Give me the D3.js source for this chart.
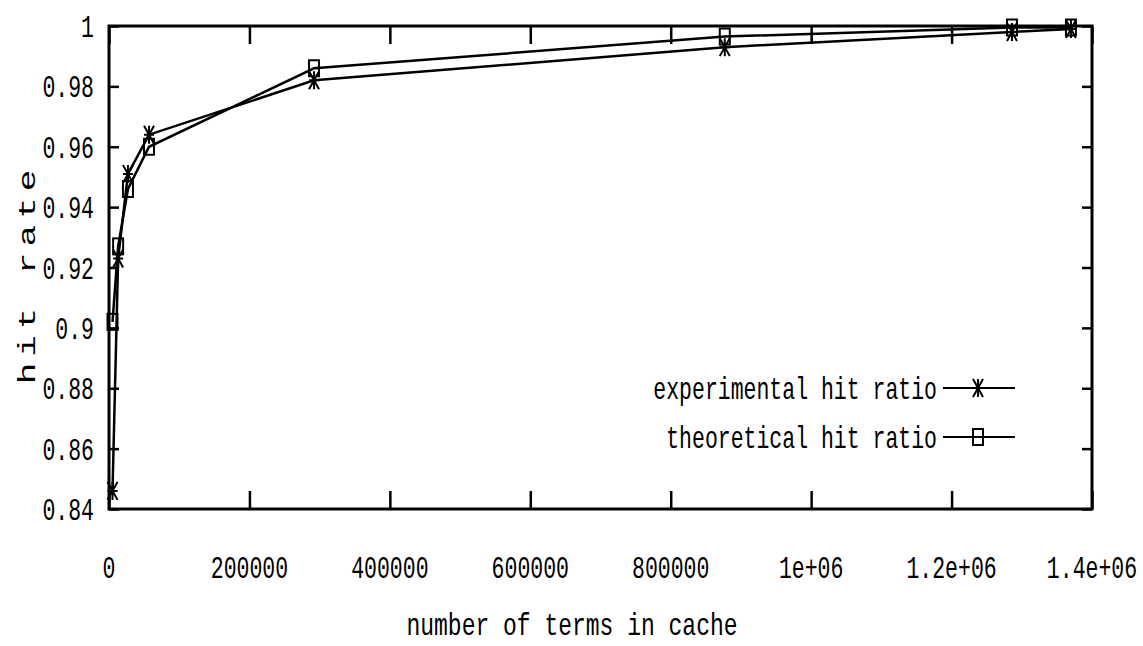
<!DOCTYPE html>
<html>
<head>
<meta charset="utf-8">
<script src="https://cdn.jsdelivr.net/npm/d3@7/dist/d3.min.js"></script>
<style>
  body { margin: 0; background: #fff; }
  svg { display: block; }
  .axis path, .axis line { stroke: #000; stroke-width: 2.5; }
  text { font-family: "Liberation Mono", "DejaVu Sans Mono", monospace; fill: #000; }
</style>
</head>
<body>
<svg id="chart" width="1143" height="646"></svg>
<script>
// data
var termsInCache = [5000, 13000, 27000, 57000, 292000, 877000, 1286000, 1370000];
var experimental = [0.846, 0.923, 0.951, 0.964, 0.982, 0.993, 0.998, 0.999];
var theoretical  = [0.902, 0.927, 0.946, 0.960, 0.986, 0.9965, 0.9995, 0.9995];

var xTicks = [0, 200000, 400000, 600000, 800000, 1000000, 1200000, 1400000];
var xTickLabels = ["0", "200000", "400000", "600000", "800000", "1e+06", "1.2e+06", "1.4e+06"];
var yTicks = [0.84, 0.86, 0.88, 0.9, 0.92, 0.94, 0.96, 0.98, 1];
var yTickLabels = ["0.84", "0.86", "0.88", "0.9", "0.92", "0.94", "0.96", "0.98", "1"];

var seriesNames = ["experimental hit ratio", "theoretical hit ratio"];

var pLeft = 109, pRight = 1092, pTop = 26, pBottom = 509;
var stretch = 1.5;   // the scan is stretched vertically

var svg = d3.select("#chart");

var x = d3.scaleLinear().domain([0, 1400000]).range([pLeft, pRight]);
var y = d3.scaleLinear().domain([0.84, 1]).range([pBottom, pTop]);

// frame
svg.append("rect")
  .attr("x", pLeft).attr("y", pTop)
  .attr("width", pRight - pLeft).attr("height", pBottom - pTop)
  .attr("fill", "none").attr("stroke", "#000").attr("stroke-width", 3);

// inner ticks on all four sides
svg.append("g").attr("class", "axis")
  .attr("transform", "translate(0," + pBottom + ")")
  .call(d3.axisBottom(x).tickValues(xTicks).tickSizeInner(-18).tickSizeOuter(0).tickFormat(""))
  .select(".domain").remove();
svg.append("g").attr("class", "axis")
  .attr("transform", "translate(0," + pTop + ")")
  .call(d3.axisTop(x).tickValues(xTicks).tickSizeInner(-18).tickSizeOuter(0).tickFormat(""))
  .select(".domain").remove();
svg.append("g").attr("class", "axis")
  .attr("transform", "translate(" + pLeft + ",0)")
  .call(d3.axisLeft(y).tickValues(yTicks).tickSizeInner(-10).tickSizeOuter(0).tickFormat(""))
  .select(".domain").remove();
svg.append("g").attr("class", "axis")
  .attr("transform", "translate(" + pRight + ",0)")
  .call(d3.axisRight(y).tickValues(yTicks).tickSizeInner(-10).tickSizeOuter(0).tickFormat(""))
  .select(".domain").remove();

// tick labels (stretched vertically like the scan)
svg.append("g").selectAll("text").data(yTicks).enter().append("text")
  .attr("transform", function(d) { return "translate(" + (pLeft - 15) + "," + (y(d) + 11) + ") scale(1," + stretch + ")"; })
  .attr("text-anchor", "end")
  .style("font-size", "21.5px")
  .text(function(d, i) { return yTickLabels[i]; });

svg.append("g").selectAll("text").data(xTicks).enter().append("text")
  .attr("transform", function(d) { return "translate(" + x(d) + ",578) scale(1," + stretch + ")"; })
  .attr("text-anchor", "middle")
  .style("font-size", "21.5px")
  .text(function(d, i) { return xTickLabels[i]; });

// axis titles
svg.append("text")
  .attr("transform", "translate(572,635) scale(1,1.4)")
  .attr("text-anchor", "middle")
  .style("font-size", "23px")
  .text("number of terms in cache");

svg.append("text")
  .attr("transform", "translate(35,274) rotate(-90) scale(1.5,1)")
  .attr("text-anchor", "middle")
  .style("font-size", "24px")
  .style("letter-spacing", "4px")
  .text("hit rate");

// lines
var line = d3.line()
  .x(function(d) { return x(d[0]); })
  .y(function(d) { return y(d[1]); });

var expPts = termsInCache.map(function(t, i) { return [t, experimental[i]]; });
var theoPts = termsInCache.map(function(t, i) { return [t, theoretical[i]]; });

svg.append("path").datum(expPts).attr("d", line)
  .attr("fill", "none").attr("stroke", "#000").attr("stroke-width", 2.5);
svg.append("path").datum(theoPts).attr("d", line)
  .attr("fill", "none").attr("stroke", "#000").attr("stroke-width", 2.5);

function star(g, cx, cy) {
  var w = 5, h = 9;
  var p = "M" + (cx - w) + "," + cy + "H" + (cx + w) +
          "M" + cx + "," + (cy - h) + "V" + (cy + h) +
          "M" + (cx - w) + "," + (cy - h) + "L" + (cx + w) + "," + (cy + h) +
          "M" + (cx - w) + "," + (cy + h) + "L" + (cx + w) + "," + (cy - h);
  g.append("path").attr("d", p).attr("stroke", "#000").attr("stroke-width", 2).attr("fill", "none");
}
function box(g, cx, cy) {
  g.append("rect").attr("x", cx - 5).attr("y", cy - 8).attr("width", 10).attr("height", 16)
    .attr("fill", "none").attr("stroke", "#000").attr("stroke-width", 2);
}

var marks = svg.append("g");
expPts.forEach(function(d) { star(marks, x(d[0]), y(d[1])); });
theoPts.forEach(function(d) { box(marks, x(d[0]), y(d[1])); });

// legend
var legRows = [388, 437];
var leg = svg.append("g");
seriesNames.forEach(function(name, i) {
  var ly = legRows[i];
  leg.append("text")
    .attr("transform", "translate(937," + (ly + 11) + ") scale(1," + stretch + ")")
    .attr("text-anchor", "end")
    .style("font-size", "21.5px")
    .text(name);
  leg.append("line").attr("x1", 943).attr("x2", 1015).attr("y1", ly).attr("y2", ly)
    .attr("stroke", "#000").attr("stroke-width", 2);
  if (i == 0) star(leg, 978, ly); else box(leg, 978, ly);
});
</script>
</body>
</html>
